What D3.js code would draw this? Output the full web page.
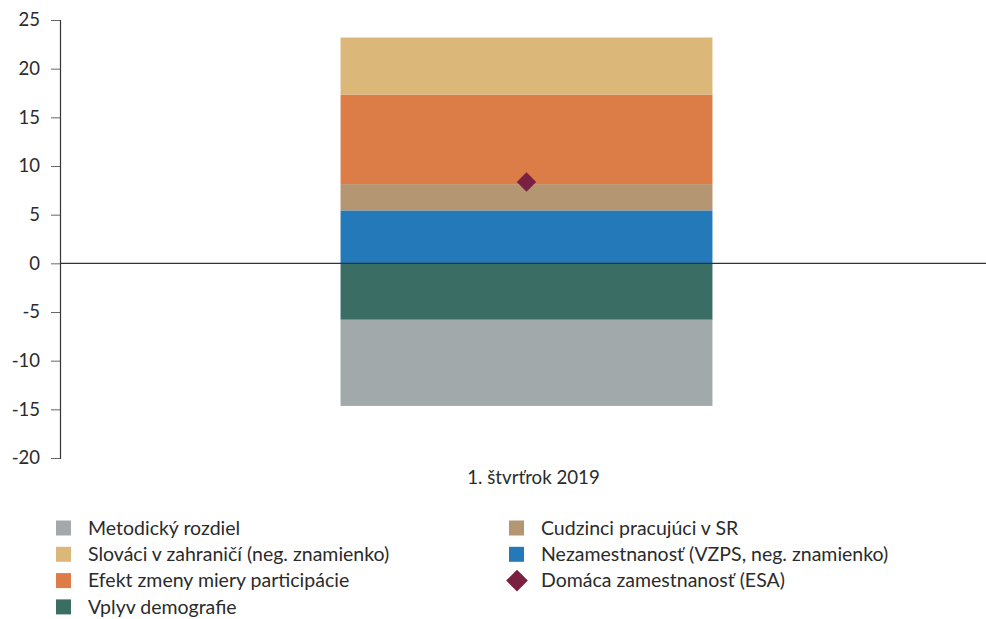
<!DOCTYPE html>
<html>
<head>
<meta charset="utf-8">
<script src="https://cdn.jsdelivr.net/npm/d3@7"></script>
<style>
  body { margin: 0; background: #fff; }
  svg text { font-family: Lato, "Open Sans", sans-serif; fill: #2b2b2b; }
</style>
</head>
<body>
<svg id="chart" width="986" height="619"></svg>
<script>
// categories
const categories = ["1. štvrťrok 2019"];

// stacked components (stack order from zero outwards)
const seriesNames = [
  "Nezamestnanosť (VZPS, neg. znamienko)",
  "Cudzinci pracujúci v SR",
  "Efekt zmeny miery participácie",
  "Slováci v zahraničí (neg. znamienko)",
  "Vplyv demografie",
  "Metodický rozdiel"
];
const seriesValues = [5.44, 2.7, 9.2, 5.86, -5.8, -8.85];
const seriesColors = ["#2479b9", "#b59672", "#dc7c47", "#dcb77a", "#3a6e65", "#a2a9ab"];

// line/marker series
const esaName = "Domáca zamestnanosť (ESA)";
const esaValues = [8.36];
const esaColor = "#7a2040";

const yTicks = [25, 20, 15, 10, 5, 0, -5, -10, -15, -20];

// legend layout (two columns, as in the original)
const legendCol1 = ["Metodický rozdiel", "Slováci v zahraničí (neg. znamienko)", "Efekt zmeny miery participácie", "Vplyv demografie"];
const legendCol2 = ["Cudzinci pracujúci v SR", "Nezamestnanosť (VZPS, neg. znamienko)", esaName];

const svg = d3.select("#chart");
const margin = { top: 20, left: 60, right: 0, bottom: 161 };
const width = 986;
const plotBottom = 458;

const y = d3.scaleLinear().domain([-20, 25]).range([plotBottom, margin.top]);
const x = d3.scaleBand().domain(categories).range([60, 993]).paddingInner(0.43).paddingOuter(0.43);

// build table for d3.stack
const table = categories.map((c, i) => {
  const row = { cat: c };
  seriesNames.forEach((s, j) => { row[s] = seriesValues[j]; });
  return row;
});
const stacked = d3.stack().keys(seriesNames).offset(d3.stackOffsetDiverging)(table);

svg.append("g")
  .selectAll("g")
  .data(stacked)
  .join("g")
  .attr("fill", (d, i) => seriesColors[i])
  .selectAll("rect")
  .data(d => d)
  .join("rect")
  .attr("x", d => x(d.data.cat))
  .attr("width", x.bandwidth())
  .attr("y", d => y(Math.max(d[0], d[1])))
  .attr("height", d => Math.abs(y(d[0]) - y(d[1])));

// y axis
const yAxis = svg.append("g")
  .attr("transform", `translate(${margin.left},0)`)
  .call(d3.axisLeft(y).tickValues(yTicks).tickSize(9).tickPadding(11).tickFormat(d => String(d)));
yAxis.select(".domain").attr("stroke", "#333").attr("stroke-width", 1.2);
yAxis.selectAll(".tick line").attr("stroke", "#666");
yAxis.selectAll(".tick text").attr("font-size", 18.5).attr("fill", "#2b2b2b")
  .style("font-family", "Lato, 'Open Sans', sans-serif");

// zero line
svg.append("line")
  .attr("x1", margin.left).attr("x2", width)
  .attr("y1", y(0)).attr("y2", y(0))
  .attr("stroke", "#333").attr("stroke-width", 1.2);

// category label
svg.selectAll(".cat")
  .data(categories)
  .join("text")
  .attr("class", "cat")
  .attr("x", d => x(d) + x.bandwidth() / 2)
  .attr("dx", 7)
  .attr("y", 484)
  .attr("text-anchor", "middle")
  .attr("font-size", 18.7)
  .text(d => d);

// ESA markers
const diamond = d3.symbol().type(d3.symbolDiamond2).size(240);
svg.selectAll(".esa")
  .data(esaValues)
  .join("path")
  .attr("class", "esa")
  .attr("d", diamond)
  .attr("transform", (d, i) => `translate(${x(categories[i]) + x.bandwidth() / 2},${y(d)})`)
  .attr("fill", esaColor);

// legend
function colorOf(name) {
  return seriesColors[seriesNames.indexOf(name)];
}
const legendRowH = 26.3;
[[legendCol1, 56], [legendCol2, 509]].forEach(([items, lx]) => {
  const g = svg.append("g").attr("transform", `translate(${lx},528)`);
  const rows = g.selectAll("g").data(items).join("g")
    .attr("transform", (d, i) => `translate(0,${i * legendRowH})`);
  rows.each(function (d) {
    const r = d3.select(this);
    if (d === esaName) {
      r.append("path").attr("d", d3.symbol().type(d3.symbolDiamond2).size(300))
        .attr("transform", "translate(8,0)").attr("fill", esaColor);
    } else {
      r.append("rect").attr("x", 0).attr("y", -7.5).attr("width", 15).attr("height", 15)
        .attr("fill", colorOf(d));
    }
    r.append("text").attr("x", 32).attr("y", 0).attr("dy", "0.35em")
      .attr("font-size", 19.5).text(d);
  });
});
</script>
</body>
</html>
